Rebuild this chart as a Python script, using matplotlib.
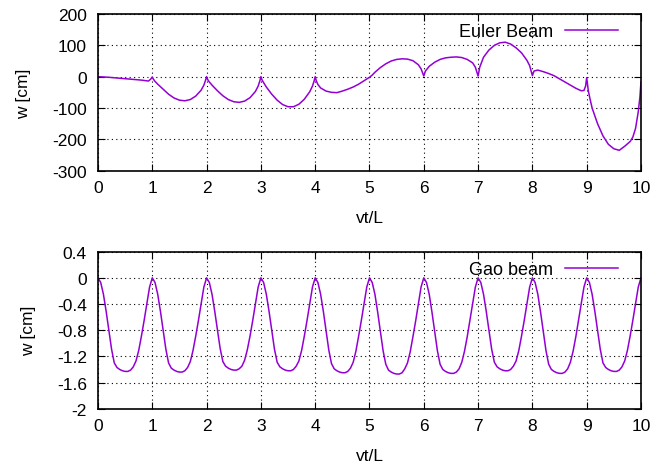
import numpy as np
import matplotlib
matplotlib.use("Agg")
import matplotlib.pyplot as plt

# Euler beam deflection
euler_x = [0, 0.2, 0.4, 0.6, 0.8, 0.93, 0.97, 1.0,
           1.02, 1.05, 1.1, 1.2, 1.3, 1.4, 1.5, 1.6, 1.7, 1.8, 1.9, 1.95, 1.98, 2.0,
           2.02, 2.05, 2.1, 2.2, 2.3, 2.4, 2.5, 2.6, 2.7, 2.8, 2.9, 2.95, 2.98, 3.0,
           3.02, 3.05, 3.1, 3.2, 3.3, 3.4, 3.5, 3.6, 3.7, 3.8, 3.9, 3.95, 3.98, 4.0,
           4.02, 4.05, 4.1, 4.2, 4.3, 4.4, 4.5, 4.6, 4.7, 4.8, 4.9, 5.0,
           5.05, 5.1, 5.2, 5.3, 5.4, 5.5, 5.6, 5.7, 5.8, 5.9, 5.95, 6.0,
           6.03, 6.1, 6.2, 6.3, 6.4, 6.5, 6.6, 6.7, 6.8, 6.9, 6.95, 7.0,
           7.03, 7.1, 7.2, 7.3, 7.4, 7.5, 7.6, 7.7, 7.8, 7.9, 7.95, 8.0,
           8.03, 8.1, 8.2, 8.3, 8.4, 8.5, 8.6, 8.7, 8.8, 8.9, 8.95, 8.98, 9.0,
           9.03, 9.06, 9.1, 9.2, 9.3, 9.4, 9.5, 9.6, 9.7, 9.8, 9.85, 9.9, 9.95, 9.98, 10.0]
euler_w = [0, -2, -5, -8, -11, -14, -8, -1,
           -8, -15, -24, -40, -56, -68, -75, -77, -73, -62, -43, -27, -12, 0,
           -9, -17, -27, -45, -61, -73, -80, -82, -78, -67, -47, -30, -14, 0,
           -10, -19, -33, -56, -75, -89, -96, -96, -88, -72, -48, -30, -14, 0,
           -13, -25, -36, -46, -50, -51, -46, -40, -33, -24, -13, -2,
           5, 14, 29, 41, 50, 55, 57, 56, 51, 38, 25, 2,
           18, 33, 46, 55, 60, 62, 63, 61, 55, 44, 30, 2,
           30, 62, 85, 100, 108, 110, 104, 92, 76, 52, 35, 3,
           18, 21, 16, 10, 3, -7, -17, -27, -37, -45, -44, -30, -3,
           -45, -70, -100, -150, -189, -216, -230, -235, -222, -207, -193, -165, -112, -65, -17]

# Gao beam deflection, one row per span, sampled every 0.05 vt/L
gao_step = 0.05
gao_rows = [
    [0, -0.07, -0.25, -0.51, -0.80, -1.09, -1.30, -1.37, -1.40, -1.42, -1.43, -1.43, -1.41, -1.36, -1.27, -1.11, -0.89, -0.65, -0.40, -0.14],
    [0, -0.07, -0.25, -0.51, -0.80, -1.09, -1.30, -1.38, -1.41, -1.43, -1.44, -1.44, -1.42, -1.37, -1.28, -1.11, -0.89, -0.65, -0.40, -0.14],
    [0, -0.07, -0.25, -0.51, -0.80, -1.08, -1.28, -1.35, -1.38, -1.40, -1.41, -1.41, -1.39, -1.35, -1.26, -1.10, -0.89, -0.65, -0.40, -0.14],
    [0, -0.07, -0.25, -0.51, -0.80, -1.09, -1.29, -1.36, -1.39, -1.41, -1.42, -1.42, -1.40, -1.35, -1.27, -1.11, -0.89, -0.65, -0.40, -0.14],
    [0, -0.07, -0.25, -0.51, -0.80, -1.10, -1.31, -1.39, -1.42, -1.44, -1.45, -1.45, -1.43, -1.38, -1.29, -1.12, -0.89, -0.65, -0.40, -0.14],
    [0, -0.07, -0.25, -0.52, -0.81, -1.11, -1.32, -1.41, -1.44, -1.46, -1.47, -1.47, -1.45, -1.39, -1.30, -1.13, -0.90, -0.66, -0.40, -0.14],
    [0, -0.07, -0.25, -0.52, -0.81, -1.11, -1.32, -1.40, -1.43, -1.45, -1.46, -1.46, -1.44, -1.39, -1.29, -1.12, -0.90, -0.65, -0.40, -0.14],
    [0, -0.07, -0.25, -0.51, -0.80, -1.09, -1.29, -1.36, -1.39, -1.41, -1.42, -1.42, -1.40, -1.35, -1.27, -1.11, -0.89, -0.65, -0.40, -0.14],
    [0, -0.07, -0.25, -0.52, -0.81, -1.11, -1.32, -1.40, -1.43, -1.45, -1.46, -1.46, -1.44, -1.39, -1.29, -1.12, -0.90, -0.65, -0.40, -0.14],
    [0, -0.07, -0.25, -0.51, -0.80, -1.09, -1.30, -1.37, -1.40, -1.42, -1.43, -1.43, -1.41, -1.36, -1.27, -1.11, -0.89, -0.65, -0.40, -0.14],
]
gao_end = 0.0

euler_yticks = [200, 100, 0, -100, -200, -300]
gao_yticks = [0.4, 0, -0.4, -0.8, -1.2, -1.6, -2]
gao_ylabels = ["0.4", "0", "-0.4", "-0.8", "-1.2", "-1.6", "-2"]
xticks = list(range(0, 11))

COLOR = "#9400d3"
plt.rcParams["font.family"] = ["Liberation Sans", "DejaVu Sans"]
plt.rcParams["font.size"] = 12.5
plt.rcParams["axes.unicode_minus"] = False


def style(ax, yticks, ylabels=None):
    ax.set_xlim(0, 10)
    ax.set_ylim(min(yticks), max(yticks))
    ax.set_xticks(xticks)
    ax.set_yticks(yticks)
    if ylabels is not None:
        ax.set_yticklabels(ylabels)
    ax.grid(True, color="black", linestyle=(0, (1, 3)), linewidth=0.8)
    ax.tick_params(direction="in", top=True, right=True, length=5, width=0.8)
    ax.tick_params(axis="y", pad=8)
    ax.tick_params(axis="x", pad=7)
    for s in ax.spines.values():
        s.set_linewidth(1.2)
    ax.set_xlabel("vt/L", labelpad=10.5)
    ax.set_ylabel("w [cm]", labelpad=15)
    ax.legend(loc="upper right", bbox_to_anchor=(0.958, 0.94), frameon=False,
              markerfirst=False, handlelength=2.95, handletextpad=0.67,
              borderpad=0, borderaxespad=0, fontsize=13)


fig = plt.figure(figsize=(6.55, 4.64), dpi=100)
ax1 = fig.add_axes([0.1496, 0.630, 0.8290, 0.3377])
ax2 = fig.add_axes([0.1496, 0.117, 0.8290, 0.3384])

ax1.plot(euler_x, euler_w, color=COLOR, lw=1.1, label="Euler Beam")
style(ax1, euler_yticks)

gao_w = [v for row in gao_rows for v in row] + [gao_end]
gao_x = np.arange(len(gao_w)) * gao_step
ax2.plot(gao_x, gao_w, color=COLOR, lw=1.1, label="Gao beam")
style(ax2, gao_yticks, gao_ylabels)

fig.savefig("out.png", dpi=100)
